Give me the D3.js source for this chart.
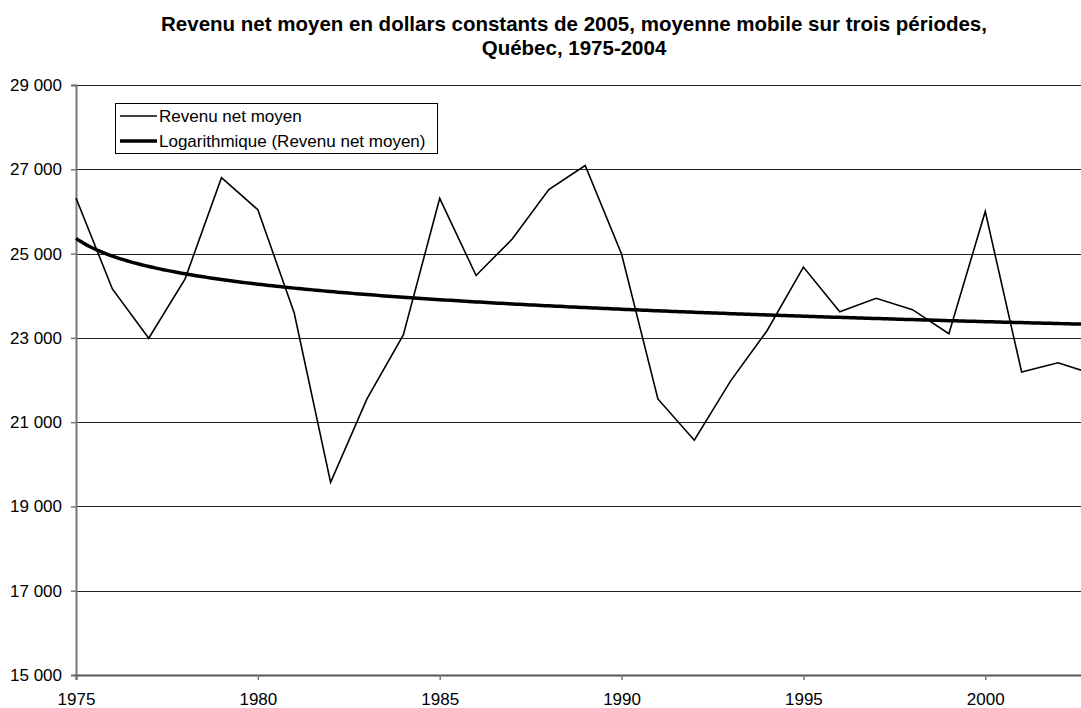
<!DOCTYPE html>
<html>
<head>
<meta charset="utf-8">
<script src="https://cdn.jsdelivr.net/npm/d3@7"></script>
<style>
  body { margin: 0; background: #fff; }
  svg { display: block; font-family: "Liberation Sans", Arial, sans-serif; }
</style>
</head>
<body>
<script>
// moyenne mobile, revenu net moyen ($ constants 2005)
var years = [1975, 1976, 1977, 1978, 1979, 1980, 1981, 1982, 1983, 1984,
             1985, 1986, 1987, 1988, 1989, 1990, 1991, 1992, 1993, 1994,
             1995, 1996, 1997, 1998, 1999, 2000, 2001, 2002, 2003]
var revenu = [26320, 24160, 22990, 24400, 26800, 26040, 23590, 19570, 21550, 23070,
              26310, 24480, 25350, 26520, 27090, 24990, 21550, 20570, 21980, 23170,
              24680, 23620, 23940, 23670, 23100, 26000, 22190, 22410, 22130]
var yTicks = [15000, 17000, 19000, 21000, 23000, 25000, 27000, 29000]
var xTicks = [1975, 1980, 1985, 1990, 1995, 2000]
var titre = ['Revenu net moyen en dollars constants de 2005, moyenne mobile sur trois périodes,',
             'Québec, 1975-2004']
var legende = ['Revenu net moyen', 'Logarithmique (Revenu net moyen)']

var W = 1081, H = 708
var plotLeft = 76, plotTop = 85, plotBottom = 675

var svg = d3.select('body').append('svg')
    .attr('width', W)
    .attr('height', H)
    .style('overflow', 'hidden')

var x = d3.scaleLinear().domain([1975, 2003]).range([plotLeft, plotLeft + 28 * 36.37])
var y = d3.scaleLinear().domain([15000, 29000]).range([plotBottom, plotTop])

// tendance logarithmique (moindres carrés, x = 1..n comme Excel)
var lx = years.map(function(d, i) { return Math.log(i + 1) })
var mx = d3.mean(lx), my = d3.mean(revenu)
var b = d3.sum(lx, function(v, i) { return (v - mx) * (revenu[i] - my) }) /
        d3.sum(lx, function(v) { return (v - mx) * (v - mx) })
var a = my - b * mx
var trend = d3.range(0, 28.01, 0.1).map(function(t) {
  return [1975 + t, a + b * Math.log(t + 1)]
})

// titre
svg.append('g').selectAll('text')
  .data(titre)
  .enter().append('text')
    .attr('x', 574)
    .attr('y', function(d, i) { return 31 + i * 24 })
    .attr('text-anchor', 'middle')
    .style('font-weight', 'bold')
    .style('font-size', '20.5px')
    .text(function(d) { return d })

// grille
svg.append('g').selectAll('line')
  .data(yTicks.slice(1))
  .enter().append('line')
    .attr('x1', plotLeft).attr('x2', W)
    .attr('y1', function(d) { return Math.round(y(d)) + 0.5 })
    .attr('y2', function(d) { return Math.round(y(d)) + 0.5 })
    .attr('stroke', '#222')
    .attr('stroke-width', 1)

// axe y
var yAxis = svg.append('g')
    .attr('transform', 'translate(' + plotLeft + ',0)')
    .call(d3.axisLeft(y).tickValues(yTicks).tickSize(5).tickPadding(9)
      .tickFormat(function(d) { return d3.format(',')(d).replace(',', ' ') }))
yAxis.select('.domain').attr('stroke', '#777').attr('stroke-width', 2)
yAxis.selectAll('.tick line').attr('stroke', '#777').attr('stroke-width', 1.5)
yAxis.selectAll('text').style('font-size', '17px').attr('fill', '#000')

// axe x
var xAxis = svg.append('g')
    .attr('transform', 'translate(0,' + plotBottom + ')')
    .call(d3.axisBottom(x).tickValues(xTicks).tickSize(5).tickPadding(13)
      .tickFormat(d3.format('d')))
xAxis.select('.domain').attr('stroke', '#555').attr('stroke-width', 2)
xAxis.selectAll('.tick line').attr('stroke', '#777').attr('stroke-width', 1.5)
xAxis.selectAll('text').style('font-size', '17px').attr('fill', '#000')

var line = d3.line()
    .x(function(d) { return x(d[0]) })
    .y(function(d) { return y(d[1]) })

svg.append('path')
    .datum(years.map(function(d, i) { return [d, revenu[i]] }))
    .attr('d', line)
    .attr('fill', 'none')
    .attr('stroke', '#000')
    .attr('stroke-width', 1.6)

svg.append('path')
    .datum(trend)
    .attr('d', line)
    .attr('fill', 'none')
    .attr('stroke', '#000')
    .attr('stroke-width', 3.5)

// légende
var leg = svg.append('g').attr('transform', 'translate(115,103)')
leg.append('rect')
    .attr('x', 0.5).attr('y', 0.5)
    .attr('width', 322).attr('height', 50)
    .attr('fill', '#fff')
    .attr('stroke', '#000')
var items = leg.selectAll('g.item')
  .data(legende)
  .enter().append('g')
    .attr('transform', function(d, i) { return 'translate(0,' + (13 + i * 25) + ')' })
items.append('line')
    .attr('x1', 5).attr('x2', 42)
    .attr('stroke', '#000')
    .attr('stroke-width', function(d, i) { return i ? 3.5 : 1.6 })
items.append('text')
    .attr('x', 44)
    .attr('dy', '0.35em')
    .style('font-size', '17px')
    .text(function(d) { return d })
</script>
</body>
</html>
